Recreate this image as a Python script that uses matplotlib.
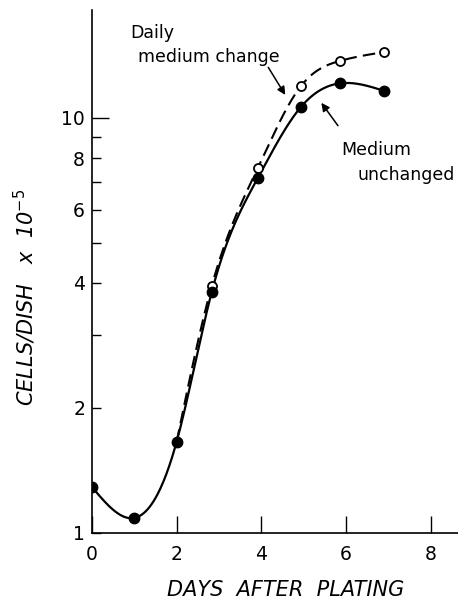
import numpy as np
import matplotlib
matplotlib.use('Agg')
import matplotlib.pyplot as plt
from matplotlib import rcParams
from matplotlib.ticker import FixedLocator, NullLocator

rcParams.update({'font.family': 'DejaVu Sans', 'mathtext.default': 'it'})

# cells per dish (x 10^-5)
days_unchanged = [0.0, 1.0, 2.0, 2.83, 3.92, 4.93, 5.85, 6.91]
cells_unchanged = [1.29, 1.087, 1.66, 3.81, 7.17, 10.6, 12.1, 11.6]

days_daily = [2.0, 2.83, 3.92, 4.93, 5.85, 6.91]
cells_daily = [1.66, 3.94, 7.58, 11.9, 13.7, 14.4]
# day 2 shares the filled point, open markers only drawn after it
open_from = 1

ytick_vals = [1, 2, 3, 4, 5, 6, 7, 8, 9, 10]
ytick_labels = ['1', '2', '', '4', '', '6', '', '8', '', '10']
xtick_vals = [0, 2, 4, 6, 8]


def natural_spline(x, y, xs):
    x = np.asarray(x, float)
    y = np.asarray(y, float)
    n = len(x)
    h = np.diff(x)
    A = np.zeros((n, n))
    b = np.zeros(n)
    A[0, 0] = A[-1, -1] = 1
    for i in range(1, n - 1):
        A[i, i - 1] = h[i - 1]
        A[i, i] = 2 * (h[i - 1] + h[i])
        A[i, i + 1] = h[i]
        b[i] = 3 * ((y[i + 1] - y[i]) / h[i] - (y[i] - y[i - 1]) / h[i - 1])
    c = np.linalg.solve(A, b)
    idx = np.clip(np.searchsorted(x, xs) - 1, 0, n - 2)
    dx = xs - x[idx]
    bb = (y[idx + 1] - y[idx]) / h[idx] - h[idx] * (2 * c[idx] + c[idx + 1]) / 3
    d = (c[idx + 1] - c[idx]) / (3 * h[idx])
    return y[idx] + bb * dx + c[idx] * dx ** 2 + d * dx ** 3


def smooth(x, y):
    xs = np.linspace(x[0], x[-1], 300)
    ys = 10 ** natural_spline(x, np.log10(y), xs)
    return xs, ys


fig = plt.figure(figsize=(4.58, 6.0), dpi=100)
ax = fig.add_axes([0.2009, 0.1117, 0.804, 0.872])

xs, ys = smooth(days_unchanged, cells_unchanged)
ax.plot(xs, ys, color='black', lw=1.6)
xs, ys = smooth(days_daily, cells_daily)
ax.plot(xs, ys, color='black', lw=1.5, dashes=(6, 3))

ax.plot(days_daily[open_from:], cells_daily[open_from:], 'o', ms=6.5,
        mfc='white', mec='black', mew=1.3)
ax.plot(days_unchanged, cells_unchanged, 'o', ms=7.5, color='black')

ax.set_yscale('log')
ax.set_xlim(0, 8.7)
ax.set_ylim(1, 18.2)

ax.yaxis.set_major_locator(FixedLocator(ytick_vals))
ax.yaxis.set_minor_locator(NullLocator())
ax.set_yticklabels(ytick_labels)
ax.set_xticks(xtick_vals)
ax.tick_params(axis='y', direction='in', length=6.5, width=1.0, labelsize=13.5, pad=5)
ax.tick_params(axis='x', direction='in', length=12, width=1.0, labelsize=13.5, pad=9)
ax.yaxis.get_major_ticks()[-1].tick1line.set_markersize(12)

for side in ['top', 'right']:
    ax.spines[side].set_visible(False)
for side in ['left', 'bottom']:
    ax.spines[side].set_linewidth(1.2)

ax.set_ylabel('CELLS/DISH   x  10$^{-5}$', fontsize=15, fontstyle='italic',
              va='center')
ax.yaxis.set_label_coords(-0.182, 0.451)
ax.set_xlabel('DAYS  AFTER  PLATING', fontsize=15, fontstyle='italic',
              va='center')
ax.xaxis.set_label_coords(0.527, -0.109)

ax.text(0.9, 16.0, 'Daily', fontsize=12.5, va='center')
ax.text(1.08, 14.0, 'medium change', fontsize=12.5, va='center')
ax.annotate('', xy=(4.6, 11.2), xytext=(4.13, 13.4),
            arrowprops=dict(arrowstyle='-|>', color='black', lw=1.1,
                            mutation_scale=12))
ax.text(5.9, 8.36, 'Medium', fontsize=12.5, va='center')
ax.text(6.27, 7.29, 'unchanged', fontsize=12.5, va='center')
ax.annotate('', xy=(5.38, 11.0), xytext=(5.85, 9.45),
            arrowprops=dict(arrowstyle='-|>', color='black', lw=1.1,
                            mutation_scale=12))

fig.savefig('out.png', dpi=100)
